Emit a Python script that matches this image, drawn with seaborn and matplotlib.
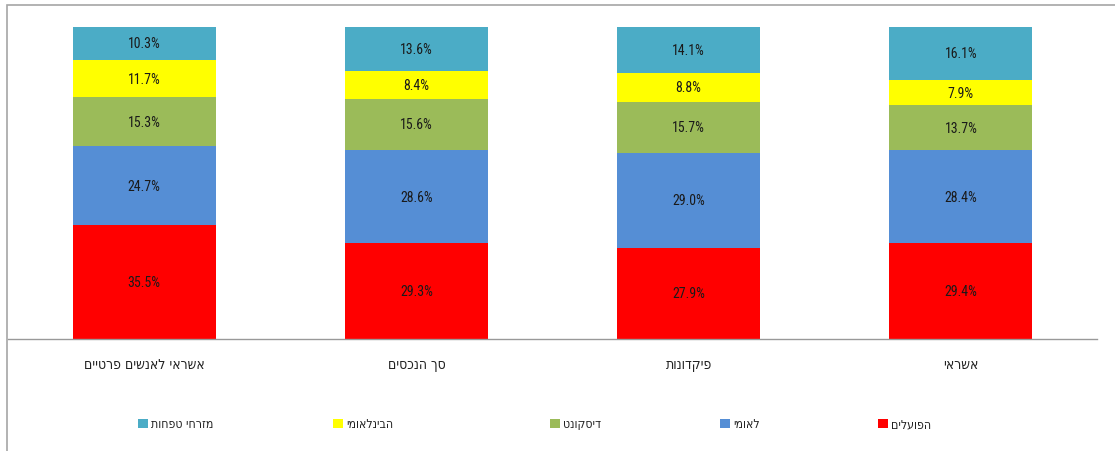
import matplotlib
matplotlib.use("Agg")
import matplotlib.pyplot as plt
from matplotlib.patches import Rectangle
from matplotlib.ticker import FixedLocator
import seaborn as sns
import pandas as pd
import numpy as np

categories = ["אשראי לאנשים פרטיים", "סך הנכסים", "פיקדונות", "אשראי"]
series = ["הפועלים", "לאומי", "דיסקונט", "הבינלאומי", "מזרחי טפחות"]
hapoalim = [35.5, 29.3, 27.9, 29.4]
leumi = [24.7, 28.6, 29.0, 28.4]
discount = [15.3, 15.6, 15.7, 13.7]
beinleumi = [11.7, 8.4, 8.8, 7.9]
mizrahi = [10.3, 13.6, 14.1, 16.1]
colors = ["#FF0000", "#558ED5", "#9BBB59", "#FFFF00", "#4BACC6"]

values = [hapoalim, leumi, discount, beinleumi, mizrahi]

sns.set_style("white")
plt.rcParams['font.family'] = ['DejaVu Sans']
plt.rcParams['font.stretch'] = 'condensed'

NUM = dict(family=["Roboto Condensed", "DejaVu Sans"])


def vis(s):
    # matplotlib lays glyphs out left to right; reverse for right-to-left display
    return s[::-1]


cat_vis = [vis(c) for c in categories]
totals = np.sum(np.array(values), axis=0)

W, H = 1115, 452
fig = plt.figure(figsize=(W / 100, H / 100), dpi=100)
ax = fig.add_axes([8 / W, 1 - 340 / H, (1097 - 8) / W, (340 - 28) / H])

bottom = np.zeros(4)
handles = []
for name, vals, col in zip(series, values, colors):
    share = np.array(vals) / totals * 100
    df = pd.DataFrame({"cat": cat_vis, "val": share})
    sns.barplot(data=df, x="cat", y="val", color=col, width=0.525,
                bottom=bottom, ax=ax, saturation=1,
                edgecolor="none", linewidth=0)
    for i, (v, s) in enumerate(zip(vals, share)):
        ax.text(i, bottom[i] + s / 2, f"{v:.1f}%", ha="center", va="center",
                fontsize=10, color="#1a1a1a", **NUM)
    handles.append(Rectangle((0, 0), 1, 1, facecolor=col, edgecolor="none"))
    bottom = bottom + share

ax.set_xlim(-0.5, 3.5)
ax.set_ylim(0, 100)
ax.set_xlabel("")
ax.set_ylabel("")
ax.set_yticks([])
for sp in ["top", "left", "right"]:
    ax.spines[sp].set_visible(False)
ax.spines["bottom"].set_color("#999999")
ax.spines["bottom"].set_linewidth(1)
ax.tick_params(axis="x", which="major", length=0, pad=13, labelsize=10, labelcolor="#222222")
for lab in ax.get_xticklabels():
    lab.set_family(["DejaVu Sans"])
    lab.set_fontstretch("condensed")
ax.xaxis.set_minor_locator(FixedLocator([-0.5, 0.5, 1.5, 2.5, 3.5]))
ax.tick_params(axis="x", which="minor", length=6, color="#999999", width=1)
if ax.get_legend():
    ax.get_legend().remove()

marker_x = {"מזרחי טפחות": 138, "הבינלאומי": 333, "דיסקונט": 550, "לאומי": 720, "הפועלים": 878}
for h, name in zip(handles, series):
    leg = fig.legend([h], [vis(name)], loc="center left",
                     bbox_to_anchor=(marker_x[name] / W, 1 - 425 / H),
                     frameon=False, handlelength=0.8, handleheight=0.8,
                     handletextpad=0.25, borderpad=0, borderaxespad=0,
                     prop=dict(family="DejaVu Sans", stretch="condensed", size=8.8))
    for t in leg.get_texts():
        t.set_color("#222222")

fig.add_artist(Rectangle((7 / W, -0.1), 1.2, 1 - 6 / H + 0.1, transform=fig.transFigure,
                         fill=False, edgecolor="#A6A6A6", linewidth=1.2))

fig.savefig("out.png", dpi=100)
